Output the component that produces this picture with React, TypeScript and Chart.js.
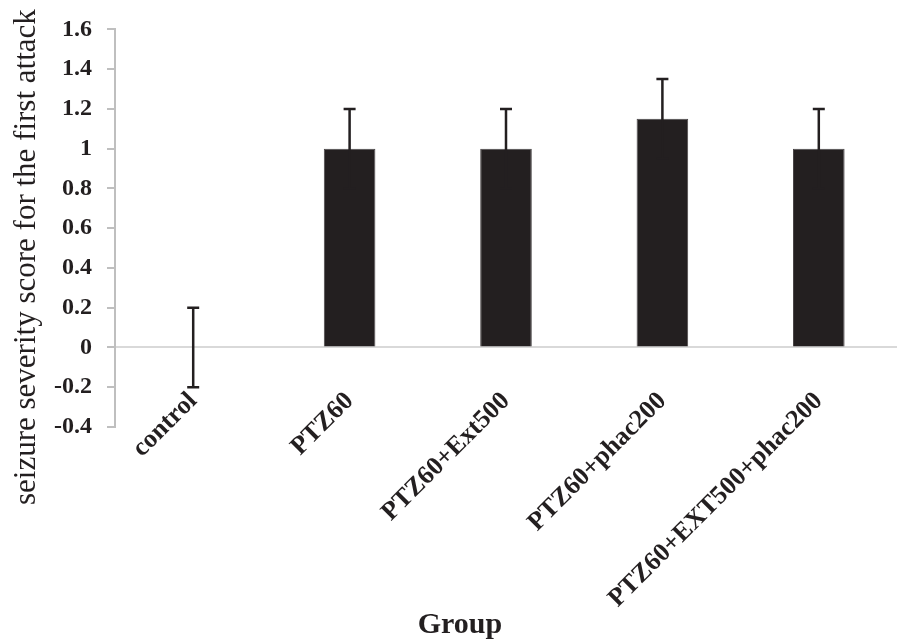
import React, { useEffect, useRef } from 'react';
import { Chart, registerables } from 'chart.js';

Chart.register(...registerables);

const categories = ['control', 'PTZ60', 'PTZ60+Ext500', 'PTZ60+phac200', 'PTZ60+EXT500+phac200'];
const meanScores = [0, 1, 1, 1.15, 1];
const errorValues = [0.2, 0.2, 0.2, 0.2, 0.2];
const yMin = -0.4;
const yMax = 1.6;
const yStep = 0.2;
const yAxisTitle = 'seizure severity score for the first attack';
const xAxisTitle = 'Group';

const TEXT = '#231f20';
const SERIF = '"Liberation Serif", "Times New Roman", serif';

const errorBarPlugin = {
  id: 'errorBars',
  afterDatasetsDraw(chart: any) {
    const meta = chart.getDatasetMeta(0);
    const y = chart.scales.y;
    const ctx = chart.ctx;
    ctx.save();
    ctx.strokeStyle = TEXT;
    ctx.lineWidth = 2.5;
    meta.data.forEach((bar: any, i: number) => {
      const x = bar.x;
      const v = meanScores[i];
      const e = errorValues[i];
      const yTop = y.getPixelForValue(v + e);
      const yBot = y.getPixelForValue(v - e);
      ctx.beginPath();
      ctx.moveTo(x, yTop);
      ctx.lineTo(x, yBot);
      ctx.moveTo(x - 6, yTop);
      ctx.lineTo(x + 6, yTop);
      ctx.moveTo(x - 6, yBot);
      ctx.lineTo(x + 6, yBot);
      ctx.stroke();
    });
    ctx.restore();
  },
};

const titlesPlugin = {
  id: 'axisTitles',
  afterDraw(chart: any) {
    const ctx = chart.ctx;
    ctx.save();
    ctx.fillStyle = TEXT;
    ctx.font = `31px ${SERIF}`;
    ctx.textAlign = 'left';
    ctx.textBaseline = 'alphabetic';
    ctx.translate(35, 505);
    ctx.rotate(-Math.PI / 2);
    ctx.fillText(yAxisTitle, 0, 0);
    ctx.restore();
    ctx.save();
    ctx.fillStyle = TEXT;
    ctx.font = `bold 30px ${SERIF}`;
    ctx.textAlign = 'center';
    ctx.textBaseline = 'alphabetic';
    ctx.fillText(xAxisTitle, 460, 633);
    ctx.restore();
  },
};

export default function App() {
  const canvasRef = useRef<HTMLCanvasElement | null>(null);

  useEffect(() => {
    const canvas = canvasRef.current;
    if (!canvas) return;
    const chart = new Chart(canvas, {
      type: 'bar',
      data: {
        labels: categories,
        datasets: [
          {
            data: meanScores,
            backgroundColor: TEXT,
            borderColor: '#4a4647',
            borderWidth: 1,
            barPercentage: 0.33,
            categoryPercentage: 1,
          },
        ],
      },
      plugins: [errorBarPlugin, titlesPlugin],
      options: {
        responsive: false,
        animation: false,
        layout: { padding: { left: 46, top: 21, right: 1, bottom: 0 } },
        plugins: {
          legend: { display: false },
          tooltip: { enabled: false },
          title: { display: false },
        },
        scales: {
          x: {
            grid: { display: false, drawTicks: false, tickLength: 0 },
            border: { display: false },
            ticks: {
              autoSkip: false,
              minRotation: 45,
              maxRotation: 45,
              padding: -41,
              color: TEXT,
              font: { family: SERIF, size: 26, weight: 'bold' },
            },
            afterFit(scale: any) {
              scale.height = 215;
              // allow rotated labels to rise above the axis box (no clipping)
              scale._computeLabelArea = () => undefined;
            },
          },
          y: {
            min: yMin,
            max: yMax,
            grid: {
              display: true,
              color: (c: any) => (c.tick && Math.abs(c.tick.value) < 1e-9 ? '#d9d9d9' : 'rgba(0,0,0,0)'),
              lineWidth: 2,
              drawTicks: true,
              tickLength: 8,
              tickColor: '#bfbfbf',
              tickWidth: 2,
            },
            border: { display: true, color: '#bfbfbf', width: 2 },
            ticks: {
              stepSize: yStep,
              padding: 15,
              color: TEXT,
              font: { family: SERIF, size: 24, weight: 'bold' },
              callback: (v: any) => String(Number(Number(v).toFixed(1))),
            },
            afterFit(scale: any) {
              scale.width = 69;
            },
          },
        },
      },
    });
    return () => chart.destroy();
  }, []);

  return (
    <div style={{ position: 'absolute', left: 0, top: 0, width: 898, height: 642, background: '#fff' }}>
      <canvas ref={canvasRef} width={898} height={642} style={{ display: 'block', width: 898, height: 642 }} />
    </div>
  );
}
